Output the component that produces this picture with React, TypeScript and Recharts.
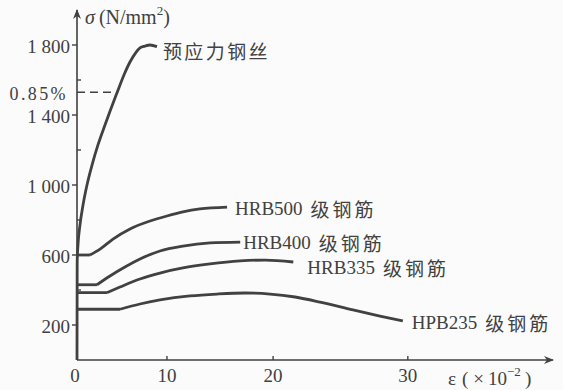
import { LineChart, Line, XAxis, YAxis, Label } from "recharts";

const INK = "#414141";
const SERIF = "'Liberation Serif', 'DejaVu Serif', serif";
const CJK = "'Noto Sans CJK SC', 'Noto Sans', sans-serif";

// axis ticks
const X_TICKS = [0, 10, 20, 30];
const Y_TICKS = [200, 400, 600, 800, 1000, 1200, 1400, 1530, 1600, 1800];
const Y_TICK_LABELS: Record<number, string> = {
  200: "200",
  600: "600",
  1000: "1 000",
  1400: "1 400",
  1800: "1 800",
  1530: "0.85%",
};

// the printed strain axis is not evenly spaced: where each tick sits along the axis
const X_WARP_VALUES = [0, 10, 20, 30, 40.7];
const X_WARP_SHARE = [0, 0.189, 0.412, 0.695, 1];

// 0.85% guide
const DASH_X = [0, 4.44];
const DASH_Y = [1530, 1530];

// stress-strain curves (strain x 10^-2, stress N/mm2)
const WIRE_X = [0, 0.02, 0.11, 0.33, 0.67, 1.11, 1.67, 2.33, 3.11, 3.72, 4.44, 5.22, 5.89, 6.5, 7.0, 7.56, 8.11, 8.89];
const WIRE_Y = [0, 560, 657, 771, 886, 1000, 1114, 1229, 1343, 1429, 1526, 1629, 1703, 1754, 1783, 1794, 1800, 1791];

const HRB500_X = [0, 1.44, 2.56, 4.0, 5.89, 8.11, 10, 11.5, 13.1, 15.66];
const HRB500_Y = [600, 600, 634, 691, 749, 794, 823, 846, 863, 874];

const HRB400_X = [0, 2.22, 3.67, 5.33, 7.0, 9.22, 11.5, 14.06, 16.9];
const HRB400_Y = [430, 430, 480, 531, 577, 623, 651, 669, 674];

const HRB335_X = [0, 3.33, 4.78, 7.0, 9.22, 11.5, 14.06, 16.9, 19.25, 21.5];
const HRB335_Y = [385, 385, 417, 463, 497, 526, 549, 566, 571, 560];

const HPB235_X = [0, 4.78, 7.0, 9.22, 12.17, 14.72, 17.36, 19.72, 21.63, 23.48, 25.93, 27.93, 29.63];
const HPB235_Y = [290, 290, 320, 343, 366, 377, 383, 377, 360, 331, 286, 251, 223];

const SERIES_NAMES = ["预应力钢丝", "HRB500 级钢筋", "HRB400 级钢筋", "HRB335 级钢筋", "HPB235 级钢筋"];
const SERIES_XS = [WIRE_X, HRB500_X, HRB400_X, HRB335_X, HPB235_X];
const SERIES_YS = [WIRE_Y, HRB500_Y, HRB400_Y, HRB335_Y, HPB235_Y];
// index of the point where the yield plateau ends (0 = no plateau)
const PLATEAU_END = [0, 1, 1, 1, 1];
const LABEL_OFFSETS = [
  [6, 3],
  [8, 1],
  [3, 0],
  [14, 5],
  [9, 1],
];

const toPoints = (xs: number[], ys: number[]) => xs.map((x, i) => ({ x, y: ys[i] }));

function warpScale(): any {
  let domain = [X_WARP_VALUES[0], X_WARP_VALUES[X_WARP_VALUES.length - 1]];
  let range = [0, 1];
  const scale: any = (v: number) => {
    const n = X_WARP_VALUES.length;
    let i = 0;
    while (i < n - 2 && v > X_WARP_VALUES[i + 1]) i++;
    const t = (v - X_WARP_VALUES[i]) / (X_WARP_VALUES[i + 1] - X_WARP_VALUES[i]);
    const share = X_WARP_SHARE[i] + t * (X_WARP_SHARE[i + 1] - X_WARP_SHARE[i]);
    return range[0] + share * (range[1] - range[0]);
  };
  scale.domain = (d?: number[]) => {
    if (d === undefined) return domain;
    domain = [...d];
    return scale;
  };
  scale.range = (r?: number[]) => {
    if (r === undefined) return range;
    range = [...r];
    return scale;
  };
  scale.copy = () => warpScale().domain(domain).range(range);
  scale.ticks = () => X_TICKS;
  return scale;
}

const xScale = warpScale();

function XTick(props: any) {
  const { x, y, payload } = props;
  return (
    <g>
      {payload.value !== 0 && <line x1={x} x2={x} y1={y} y2={y - 4} stroke={INK} strokeWidth={1.4} />}
      <text x={x - (payload.value === 0 ? 2 : 0)} y={y + 15} textAnchor="middle" dominantBaseline="central" fontFamily={SERIF} fontSize={19} fill={INK}>
        {payload.value}
      </text>
    </g>
  );
}

function YTick(props: any) {
  const { x, y, payload } = props;
  const v = payload.value;
  const label = Y_TICK_LABELS[v];
  if (v === DASH_Y[0]) {
    return (
      <text x={x - 9} y={y + 2} textAnchor="end" dominantBaseline="central" fontFamily={SERIF} fontSize={18} letterSpacing={2.4} fill={INK}>
        {label}
      </text>
    );
  }
  if (!label) {
    return <line x1={x} x2={x + 4} y1={y} y2={y} stroke={INK} strokeWidth={1.4} />;
  }
  return (
    <g>
      <line x1={x - 5} x2={x} y1={y} y2={y} stroke={INK} strokeWidth={1.4} />
      <text x={x - 7} y={y + 1} textAnchor="end" dominantBaseline="central" fontFamily={SERIF} fontSize={19} fill={INK}>
        {label}
      </text>
    </g>
  );
}

const YTitle = (props: any) => {
  const vb = props.viewBox;
  return (
    <text x={vb.x + vb.width + 8} y={vb.y + 7} dominantBaseline="central" fontFamily={SERIF} fontSize={20} fill={INK}>
      <tspan fontStyle="italic">σ</tspan>
      <tspan dx={4}>(N/mm</tspan>
      <tspan dy={-7} fontSize={13}>2</tspan>
      <tspan dy={7}>)</tspan>
    </text>
  );
};

const XTitle = (props: any) => {
  const vb = props.viewBox;
  return (
    <text x={vb.x + vb.width - 105} y={vb.y + 18} dominantBaseline="central" fontFamily={SERIF} fontSize={19} fill={INK}>
      ε<tspan dx={6}>(</tspan>
      <tspan dx={5}>×</tspan>
      <tspan dx={4}>10</tspan>
      <tspan dy={-7} fontSize={13}>−2</tspan>
      <tspan dy={7} dx={4}>)</tspan>
    </text>
  );
};

function endLabel(name: string, count: number, dx: number, dy: number) {
  return (p: any) => {
    if (p.index !== count - 1) return <g key={`n-${p.index}`} />;
    const parts = name.split(" ");
    const latin = parts.length > 1 ? parts[0] : "";
    const cjk = parts[parts.length - 1];
    return (
      <text key="end" x={p.x + dx} y={p.y + dy} dominantBaseline="central" fontSize={19} fill={INK}>
        {latin && <tspan fontFamily={SERIF}>{latin}</tspan>}
        <tspan fontFamily={CJK} dx={latin ? 8 : 0} letterSpacing={latin ? 3 : 2.4}>
          {cjk}
        </tspan>
      </text>
    );
  };
}

export default function App() {
  return (
    <div style={{ position: "absolute", left: 0, top: 0, width: 563, height: 390, background: "#fbfbfb" }}>
      <LineChart width={563} height={390} margin={{ top: 10, right: 10, bottom: 0, left: 0 }}>
        <defs>
          <marker
            id="axis-arrow"
            viewBox="0 0 10 8"
            refX={9}
            refY={4}
            markerWidth={10}
            markerHeight={8}
            markerUnits="userSpaceOnUse"
            orient="auto-start-reverse"
          >
            <path d="M0,0 L10,4 L0,8 L3,4 Z" fill={INK} />
          </marker>
        </defs>
        <XAxis
          type="number"
          dataKey="x"
          domain={[0, X_WARP_VALUES[X_WARP_VALUES.length - 1]]}
          scale={xScale}
          ticks={X_TICKS}
          interval={0}
          tick={<XTick />}
          tickLine={false}
          tickSize={0}
          tickMargin={0}
          height={30}
          axisLine={{ stroke: INK, strokeWidth: 1.6, markerEnd: "url(#axis-arrow)" }}
        >
          <Label content={XTitle} />
        </XAxis>
        <YAxis
          type="number"
          domain={[0, 2000]}
          ticks={Y_TICKS}
          interval={0}
          tick={<YTick />}
          tickLine={false}
          tickSize={0}
          tickMargin={0}
          width={77}
          axisLine={{ stroke: INK, strokeWidth: 1.6, markerStart: "url(#axis-arrow)" }}
        >
          <Label content={YTitle} />
        </YAxis>
        <Line
          data={toPoints(DASH_X, DASH_Y)}
          dataKey="y"
          type="linear"
          stroke={INK}
          strokeWidth={1.5}
          strokeDasharray="8 5"
          dot={false}
          isAnimationActive={false}
        />
        {SERIES_NAMES.map((name, i) =>
          PLATEAU_END[i] > 0 ? (
            <Line
              key={`${name}-plateau`}
              data={toPoints(SERIES_XS[i].slice(0, PLATEAU_END[i] + 1), SERIES_YS[i].slice(0, PLATEAU_END[i] + 1))}
              dataKey="y"
              type="linear"
              stroke={INK}
              strokeWidth={2.8}
              dot={false}
              isAnimationActive={false}
            />
          ) : null
        )}
        {SERIES_NAMES.map((name, i) => {
          const xs = SERIES_XS[i].slice(PLATEAU_END[i]);
          const ys = SERIES_YS[i].slice(PLATEAU_END[i]);
          return (
            <Line
              key={name}
              data={toPoints(xs, ys)}
              dataKey="y"
              name={name}
              type="monotone"
              stroke={INK}
              strokeWidth={2.8}
              strokeLinejoin="round"
              dot={false}
              label={endLabel(name, xs.length, LABEL_OFFSETS[i][0], LABEL_OFFSETS[i][1])}
              isAnimationActive={false}
            />
          );
        })}
      </LineChart>
    </div>
  );
}
